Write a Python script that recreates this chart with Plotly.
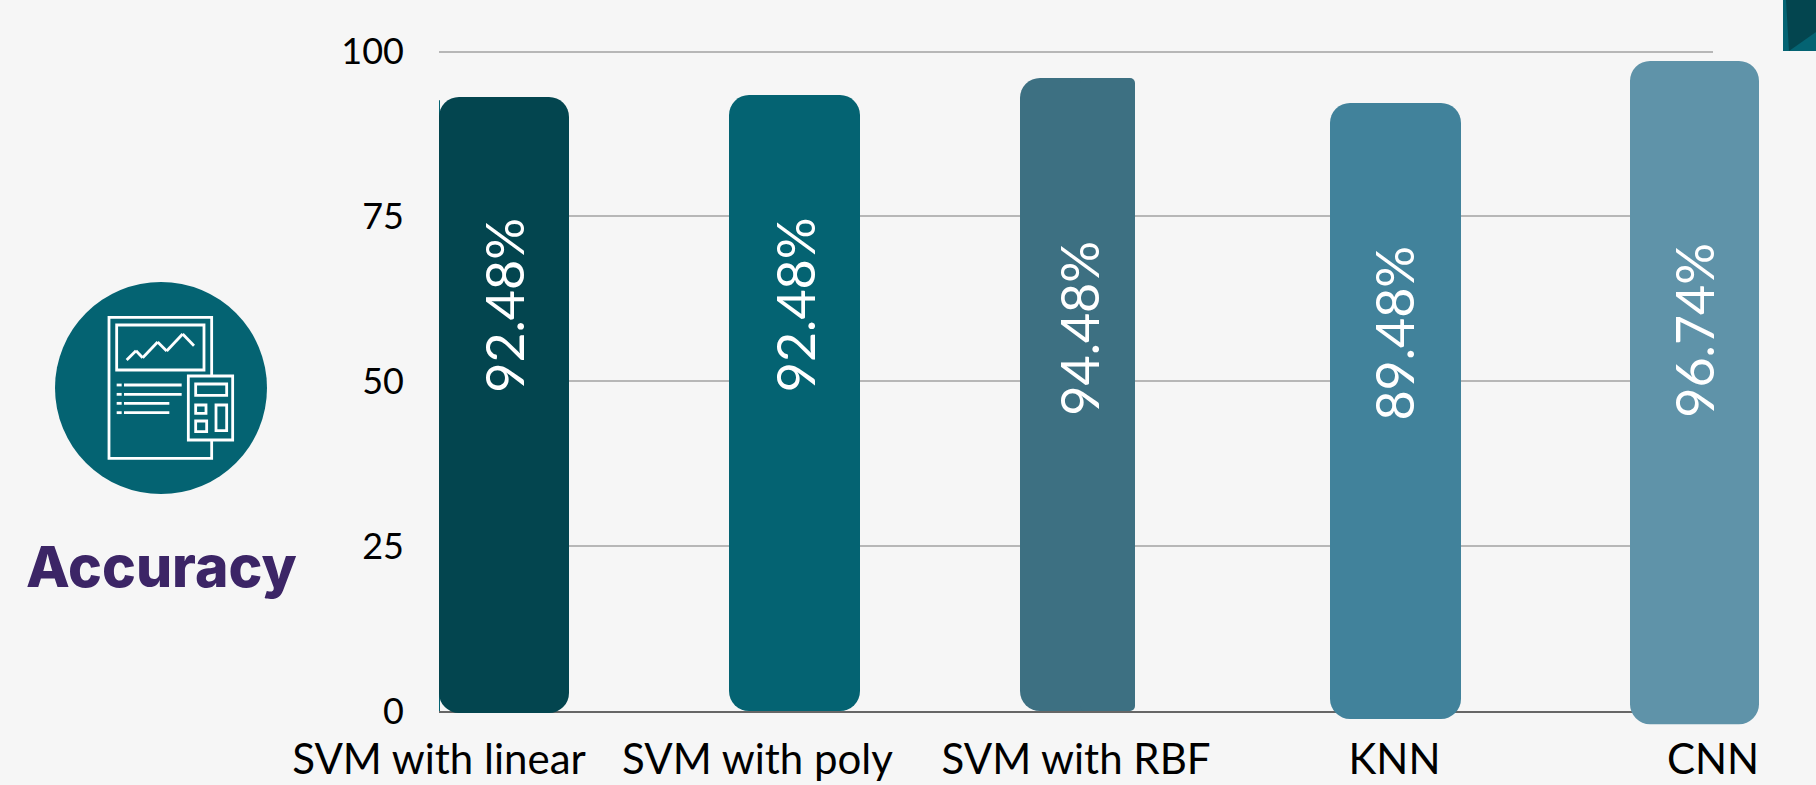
import plotly.graph_objects as go

W, H = 1816, 785
categories = ["SVM with linear", "SVM with poly", "SVM with RBF", "KNN", "CNN"]
accuracy_labels = ["92.48%", "92.48%", "94.48%", "89.48%", "96.74%"]
bar_top = [93.1, 93.4, 95.98, 92.2, 98.56]
bar_bottom = [-0.3, 0.0, 0.0, -1.2, -2.0]
y_ticks = [0, 25, 50, 75, 100]

# Off-centre bar placement (pixel edges) and look
bar_left_px = [439, 729, 1020, 1330, 1630]
bar_right_px = [569, 860, 1135, 1461, 1759]
bar_color = ["#03454F", "#046372", "#3D7082", "#41829B", "#5F93A9"]
label_x = [0.204, 1.116, 2.01, 3.0, 3.94]
label_y = [61.6, 61.6, 58.0, 57.3, 57.8]

BG = "#F6F6F6"
TEAL = "#046372"
FONT = "Lato"
X0, X1, Y100, Y0 = 439, 1713, 51.5, 711
X_UNIT = (X1 - X0) / 4
Y_UNIT = (Y0 - Y100) / 100
Y_MAX = 101


def px(x):
    return x / W


def py(y):
    return 1 - y / H


def to_x(p):
    return (p - X0) / X_UNIT


fig = go.Figure()

# Display axes: ticks, grid and baseline
fig.add_trace(go.Scatter(x=[to_x(a) for a in bar_left_px], y=bar_top, mode="none", showlegend=False,
                         hoverinfo="skip", xaxis="x", yaxis="y"))


def add_bar(left, right, top, bottom, color, radius):
    fig.add_trace(go.Bar(x=[to_x((left + right) / 2)], width=[(right - left) / X_UNIT],
                         y=[top - bottom], base=[bottom],
                         marker=dict(color=color, line=dict(width=0), cornerradius=radius),
                         showlegend=False, hoverinfo="skip", xaxis="x2", yaxis="y2"))


for i in range(len(categories)):
    add_bar(bar_left_px[i], bar_right_px[i], bar_top[i], bar_bottom[i], bar_color[i], 20)
# The third bar is cut off on its right edge, so its right corners are tighter
add_bar(1080, bar_right_px[2], bar_top[2], bar_bottom[2], bar_color[2], 5)

annotations = [
    dict(x=label_x[i], y=label_y[i], xref="x2", yref="y2", text=accuracy_labels[i], textangle=-90,
         showarrow=False, font=dict(family=FONT, size=52, color="white", weight=400))
    for i in range(len(categories))
]
annotations.append(dict(x=px(161), y=py(566), xref="paper", yref="paper", text="Accuracy", showarrow=False,
                        xanchor="center", yanchor="middle",
                        font=dict(family="Inter", size=57, color="#3C2566", weight=800)))

shapes = []


def line(x0, y0, x1, y1):
    shapes.append(dict(type="line", xref="paper", yref="paper", x0=px(x0), y0=py(y0), x1=px(x1), y1=py(y1),
                       line=dict(color="white", width=2.8)))


def zoom_xy(zx, zy):
    return zx / 3, 260 + zy / 3


def zrect(a, b, c, d, fill=None):
    x0, y0 = zoom_xy(a, b)
    x1, y1 = zoom_xy(c, d)
    shapes.append(dict(type="rect", xref="paper", yref="paper", x0=px(x0), y0=py(y0), x1=px(x1), y1=py(y1),
                       fillcolor=fill or "rgba(0,0,0,0)", line=dict(color="white", width=2.8)))


# Faint sliver down the left edge of the first bar
shapes.append(dict(type="line", xref="x", yref="y", x0=0, x1=0, y0=0, y1=92.6, layer="below",
                   line=dict(color=TEAL, width=2)))
# Badge circle
shapes.append(dict(type="circle", xref="paper", yref="paper", x0=px(55), x1=px(267), y0=py(282), y1=py(494),
                   fillcolor=TEAL, line=dict(width=0)))
zrect(327, 172, 635, 595)
zrect(350, 195, 612, 330)
chart_pts = [(380, 300), (408, 272), (428, 293), (473, 246), (500, 273), (548, 222), (582, 257)]
for a, b in zip(chart_pts, chart_pts[1:]):
    line(*zoom_xy(*a), *zoom_xy(*b))
for zy, end in [(375, 545), (403, 545), (430, 508), (458, 508)]:
    line(*zoom_xy(350, zy), *zoom_xy(365, zy))
    line(*zoom_xy(372, zy), *zoom_xy(end, zy))
zrect(565, 348, 698, 540, TEAL)
zrect(587, 372, 680, 406)
zrect(587, 435, 618, 460)
zrect(587, 483, 620, 515)
zrect(648, 435, 680, 512)
# Corner decoration, top right
shapes.append(dict(type="rect", xref="paper", yref="paper", x0=px(1783), x1=1, y0=py(51), y1=1,
                   fillcolor=TEAL, line=dict(width=0)))
corner = [(1786, 0), (1816, 0), (1816, 32), (1789, 51)]
shapes.append(dict(type="path", xref="paper", yref="paper",
                   path="M" + " L".join(f"{px(a):.5f},{py(b):.5f}" for a, b in corner) + " Z",
                   fillcolor="#03454F", line=dict(width=0)))

fig.update_layout(
    width=W, height=H, margin=dict(l=0, r=0, t=0, b=0, pad=0), autosize=False,
    paper_bgcolor=BG, plot_bgcolor="rgba(0,0,0,0)", barmode="overlay", showlegend=False,
    shapes=shapes, annotations=annotations,
    xaxis=dict(domain=[px(X0), px(X1)], range=[0, 4], tickmode="array", tickvals=list(range(5)),
               ticktext=categories, showgrid=False, zeroline=False, showline=True, linecolor="#666666",
               linewidth=2, ticks="", ticklabelstandoff=11, tickangle=0, automargin=False,
               anchor="y", tickfont=dict(family=FONT, size=42, color="black", weight=400)),
    yaxis=dict(domain=[py(Y0), py(Y0 - Y_MAX * Y_UNIT)], range=[0, Y_MAX], tickmode="array", tickvals=y_ticks,
               showgrid=True, gridcolor="#B7B7B7", gridwidth=1.5, zeroline=False, showline=False,
               ticks="", ticklabelstandoff=34, automargin=False, anchor="x",
               tickfont=dict(family=FONT, size=36, color="black", weight=400)),
    # Full-figure axes for the bars, which overrun the plot area; same scale as the display axes
    xaxis2=dict(domain=[0, 1], range=[to_x(0), to_x(W)], visible=False, automargin=False,
                anchor="y2", fixedrange=True),
    yaxis2=dict(domain=[0, 1], range=[(Y0 - H) / Y_UNIT, Y0 / Y_UNIT], visible=False, automargin=False,
                anchor="x2", fixedrange=True),
)

fig.write_html("out.html", config=dict(displayModeBar=False),
               post_script="document.body.style.margin='0';document.body.style.background='#F6F6F6';")
